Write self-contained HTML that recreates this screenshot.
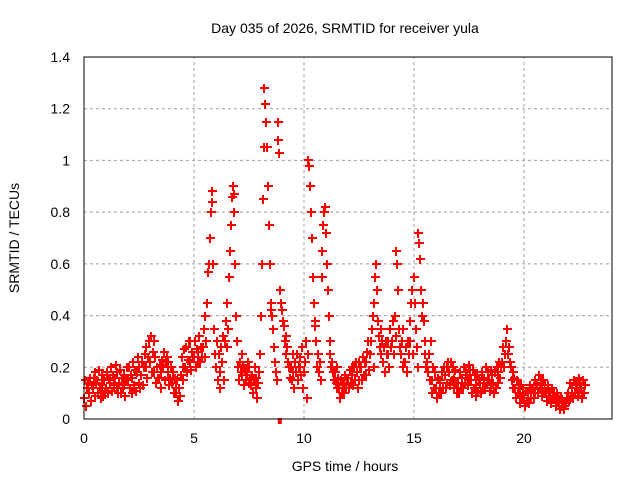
<!DOCTYPE html>
<html><head><meta charset="utf-8"><style>
body{margin:0;background:#fff;}
svg{display:block;font-family:"Liberation Sans",sans-serif;}
</style></head><body>
<svg id="chart" width="640" height="480">
<rect width="640" height="480" fill="#fff"/>
<text x="345" y="33" font-size="14" text-anchor="middle">Day 035 of 2026, SRMTID for receiver yula</text>
<text x="345" y="471" font-size="14" text-anchor="middle">GPS time / hours</text>
<text transform="translate(19,238) rotate(-90)" font-size="14" text-anchor="middle">SRMTID / TECUs</text>
<g id="grid"></g><g id="ticks"></g><g id="marks"></g>
<rect x="84" y="57" width="528" height="362" fill="none" stroke="#000" stroke-width="1"/>
</svg>
<script>
const binStart = 0, binWidth = 0.2;
const values = [
[.08,.15,.05,.12,.14],[.14,.1,.16,.07,.13],[.12,.16,.09,.18,.14],[.15,.1,.19,.12,.08],[.13,.17,.09,.15,.11],
[.12,.18,.1,.16,.14],[.15,.2,.11,.17,.13],[.16,.21,.12,.18,.1],[.14,.19,.1,.16,.12],[.13,.17,.09,.15,.2],
[.15,.2,.12,.17,.1],[.16,.22,.13,.19,.11],[.18,.24,.14,.2,.12],[.17,.22,.13,.2,.25],[.2,.28,.16,.24,.3],
[.22,.32,.18,.26,.3],[.18,.24,.14,.2,.16],[.16,.21,.12,.18,.23],[.2,.26,.15,.22,.24],[.18,.22,.13,.16,.2],
[.14,.18,.1,.16,.12],[.1,.15,.07,.12,.09],[.17,.24,.15,.2,.27],[.2,.28,.18,.23,.3],[.22,.3,.19,.26,.24],
[.24,.3,.2,.27,.22],[.26,.32,.22,.28,.24],[.28,.35,.24,.4,.3],[.45,.57,.6,.7,.8],[.88,.84,.6,.35,.25],
[.2,.3,.15,.25,.12],[.18,.28,.22,.32,.15],[.3,.38,.28,.45,.35],[.55,.65,.75,.86,.9],[.87,.8,.6,.4,.3],
[.2,.15,.22,.18,.25],[.17,.21,.13,.19,.15],[.18,.22,.14,.2,.16],[.13,.17,.1,.15,.2],[.12,.16,.08,.14,.18],
[.25,.4,.6,.85,1.05],[1.28,1.22,1.15,1.05,.9],[.75,.6,.45,.42,.4],[.35,.28,.22,.18,.15],[1.15,1.08,1.03,.5,.45],
[.42,.38,.36,.3,.25],[.32,.28,.22,.2,.16],[.2,.15,.25,.18,.12],[.22,.18,.25,.15,.2],[.2,.24,.17,.28,.12],
[.18,.22,.3,.08,.25],[1.0,.98,.9,.8,.7],[.55,.45,.38,.36,.3],[.2,.25,.18,.22,.15],[.55,.65,.75,.8,.82],
[.72,.6,.5,.4,.3],[.25,.2,.22,.18,.15],[.18,.14,.2,.12,.16],[.12,.08,.15,.1,.13],[.14,.1,.17,.12,.16],
[.16,.12,.19,.14,.2],[.17,.13,.2,.15,.22],[.18,.12,.22,.15,.2],[.2,.15,.24,.17,.22],[.22,.17,.26,.3,.19],
[.25,.3,.35,.4,.2],[.45,.55,.6,.5,.38],[.32,.28,.35,.25,.3],[.22,.28,.18,.3,.25],[.25,.3,.2,.35,.28],
[.3,.38,.25,.4,.32],[.65,.6,.5,.35,.28],[.25,.3,.2,.35,.22],[.22,.28,.18,.3,.25],[.3,.38,.45,.5,.25],
[.55,.45,.35,.28,.2],[.72,.68,.62,.5,.4],[.45,.38,.3,.25,.2],[.22,.18,.25,.15,.3],[.15,.1,.2,.12,.18],
[.12,.08,.16,.1,.14],[.15,.1,.18,.12,.2],[.17,.12,.2,.14,.22],[.18,.13,.22,.15,.2],[.16,.12,.19,.14,.1],
[.14,.1,.18,.12,.16],[.16,.12,.2,.14,.18],[.17,.13,.21,.15,.19],[.15,.1,.19,.12,.17],[.13,.09,.17,.11,.15],
[.14,.1,.18,.12,.16],[.16,.12,.2,.14,.18],[.15,.11,.19,.13,.17],[.14,.1,.18,.12,.2],[.18,.14,.22,.16,.2],
[.22,.28,.2,.25,.3],[.3,.35,.25,.28,.22],[.2,.15,.18,.12,.16],[.12,.08,.15,.1,.13],[.1,.06,.13,.08,.12],
[.08,.05,.11,.07,.1],[.1,.06,.13,.08,.12],[.12,.08,.15,.1,.13],[.14,.1,.17,.12,.15],[.12,.09,.15,.1,.13],
[.1,.07,.13,.09,.11],[.09,.06,.12,.08,.1],[.08,.05,.1,.07,.09],[.06,.04,.08,.05,.07],[.05,.04,.07,.06,.08],
[.1,.07,.14,.09,.12],[.12,.08,.15,.1,.13],[.13,.09,.16,.11,.14],[.12,.08,.15,.1,.13]
];
const outlierTimes = [8.9];
const outlierValues = [0.0];
const xTicks = [0,5,10,15,20];
const yTicks = [0,0.2,0.4,0.6,0.8,1,1.2,1.4];
const yTickLabels = ["0","0.2","0.4","0.6","0.8","1","1.2","1.4"];

const NS="http://www.w3.org/2000/svg";
const X0=84,X1=612,Y0=419,Y1=57,XMAX=24,YMAX=1.4;
const xs=t=>X0+(X1-X0)*t/XMAX, ys=v=>Y0-(Y0-Y1)*v/YMAX;
function mk(tag,attrs,parent){const e=document.createElementNS(NS,tag);for(const k in attrs)e.setAttribute(k,attrs[k]);parent.appendChild(e);return e;}
const grid=document.getElementById('grid'),ticks=document.getElementById('ticks'),marks=document.getElementById('marks');
xTicks.forEach(t=>{
  const x=xs(t);
  if(t>0){const g=mk('line',{x1:x,x2:x,y1:Y0,y2:Y1,stroke:'#a0a0a0','stroke-dasharray':'3,3'},grid);
  
  }
  const l=mk('text',{x:x,y:443,'font-size':14,'text-anchor':'middle'},ticks);l.textContent=t;
  
  
});
yTicks.forEach((v,i)=>{
  const y=ys(v);
  if(v>0&&v<YMAX){const g=mk('line',{x1:X0,x2:X1,y1:y,y2:y,stroke:'#a0a0a0','stroke-dasharray':'3,3'},grid);
  
  }
  const l=mk('text',{x:70,y:y+5,'font-size':14,'text-anchor':'end'},ticks);l.textContent=yTickLabels[i];
  
  
});
let d='';
values.forEach((arr,i)=>{
  arr.forEach((v,k)=>{
    const t=binStart+i*binWidth+k*binWidth/arr.length;
    const x=Math.round(xs(t)),y=Math.round(ys(v));
    d+=`M${x-4} ${y}h9M${x} ${y-4}v9`;
  });
});
const p=mk('path',{d:d,stroke:'#ff0000','stroke-width':1.6,fill:'none','shape-rendering':'crispEdges'},marks);


outlierTimes.forEach((t,i)=>{
  const r=mk('rect',{x:xs(t)-2,y:ys(outlierValues[i])-1,width:4,height:6,fill:'#ff0000'},marks);
  
  
});
</script>
</body></html>
